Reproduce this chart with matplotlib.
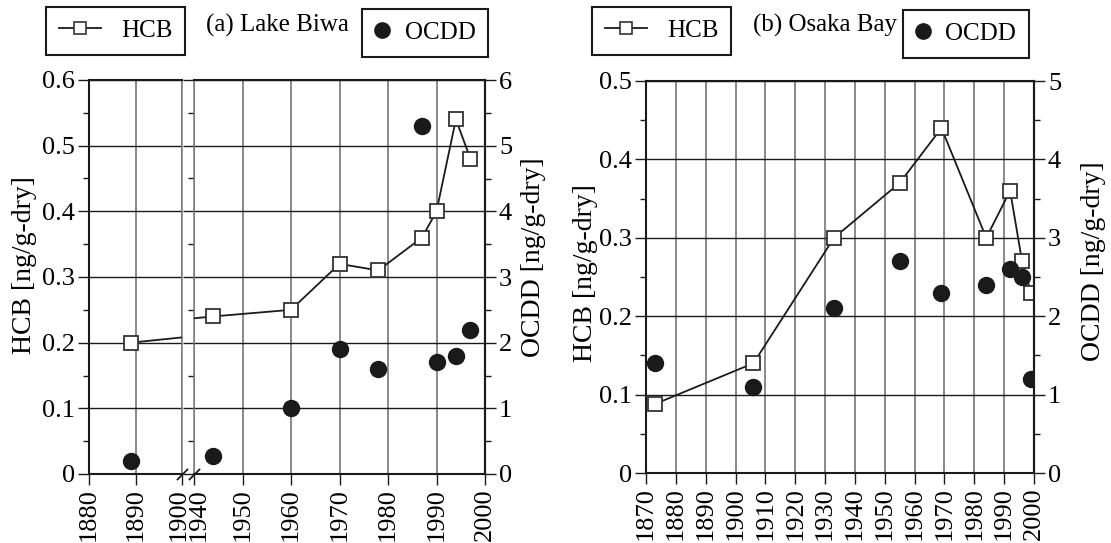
import matplotlib
matplotlib.use("Agg")
import matplotlib.pyplot as plt
from matplotlib.lines import Line2D
from matplotlib.ticker import MultipleLocator
from matplotlib.transforms import ScaledTranslation

FS = 18          # legends and panel titles
TICK_FS = 19     # tick labels
LABEL_FS = 20    # axis labels
plt.rcParams["font.family"] = ["Liberation Serif", "DejaVu Serif"]
plt.rcParams["font.size"] = FS
plt.rcParams["axes.unicode_minus"] = False

# (a) Lake Biwa sediment core
biwa_year = [1889, 1944, 1960, 1970, 1978, 1987, 1990, 1994, 1997]
biwa_hcb = [0.20, 0.24, 0.25, 0.32, 0.31, 0.36, 0.40, 0.54, 0.48]
biwa_ocdd = [0.2, 0.27, 1.0, 1.9, 1.6, 5.3, 1.7, 1.8, 2.2]

# (b) Osaka Bay sediment core
osaka_year = [1873, 1906, 1933, 1955, 1969, 1984, 1992, 1996, 1999]
osaka_hcb = [0.088, 0.14, 0.30, 0.37, 0.44, 0.30, 0.36, 0.27, 0.23]
osaka_ocdd = [1.4, 1.1, 2.1, 2.7, 2.3, 2.4, 2.6, 2.5, 1.2]

biwa_ticks_old = [1880, 1890, 1900]
biwa_ticks_new = [1940, 1950, 1960, 1970, 1980, 1990, 2000]
osaka_ticks = list(range(1870, 2001, 10))

W, H = 1111, 543
fig = plt.figure(figsize=(W / 100, H / 100), dpi=100)


def px_axes(x0, x1, y0, y1):
    return fig.add_axes([x0 / W, 1 - y1 / H, (x1 - x0) / W, (y1 - y0) / H])


HCB_STYLE = dict(color="#1a1a1a", lw=1.3, marker="s", ms=10.5, mfc="white",
                 mec="#333333", mew=1.3, zorder=5)
OCDD_STYLE = dict(ls="none", marker="o", ms=11.5, color="#1a1a1a", zorder=6)
GRID_H = dict(color="#1a1a1a", lw=1.0)
GRID_V = dict(color="#6a6a6a", lw=1.1)


def yfmt(v, _):
    return "0" if v == 0 else f"{v:g}"


def style_axes(ax):
    ax.set_facecolor("none")
    for s in ax.spines.values():
        s.set_linewidth(1.5)
        s.set_color("#1a1a1a")
    ax.tick_params(axis="both", which="major", direction="out", length=8,
                   width=1.0, color="#1a1a1a", pad=2, labelsize=TICK_FS)
    ax.tick_params(axis="both", which="minor", direction="out", length=4,
                   width=1.0, color="#1a1a1a")
    ax.tick_params(axis="x", labelrotation=90)
    ax.yaxis.grid(True, **GRID_H)
    ax.xaxis.grid(True, **GRID_V)
    ax.set_axisbelow(True)


def style_right(tw, step):
    for s in tw.spines.values():
        s.set_visible(False)
    tw.spines["right"].set_visible(True)
    tw.spines["right"].set_linewidth(1.5)
    tw.spines["right"].set_color("#1a1a1a")
    tw.yaxis.set_major_locator(MultipleLocator(step))
    tw.yaxis.set_minor_locator(MultipleLocator(step / 2))
    tw.tick_params(axis="y", which="major", direction="out", length=8,
                   width=1.0, color="#1a1a1a", pad=2, labelsize=TICK_FS)
    tw.tick_params(axis="y", which="minor", direction="out", length=4,
                   width=1.0, color="#1a1a1a")
    tw.yaxis.set_major_formatter(yfmt)


def place_ylabel(ax, text, x, y):
    ax.set_ylabel(text, rotation=90, va="center", ha="center",
                  fontsize=LABEL_FS)
    ax.yaxis.set_label_coords(x, y)


def nudge_tick_label(ax, index, dx_px):
    lab = ax.xaxis.get_major_ticks()[index].label1
    lab.set_transform(lab.get_transform()
                      + ScaledTranslation(dx_px / 100, 0, fig.dpi_scale_trans))


# ---------- panel (a): broken time axis ----------
ax_old = px_axes(89, 182, 80, 474)
ax_new = px_axes(194, 485, 80, 474)
for ax in (ax_old, ax_new):
    style_axes(ax)
    ax.set_ylim(0, 0.6)
    ax.yaxis.set_major_locator(MultipleLocator(0.1))
    ax.yaxis.set_minor_locator(MultipleLocator(0.05))
    ax.plot(biwa_year, biwa_hcb, **HCB_STYLE)

ax_old.set_xlim(1880, 1900)
ax_old.set_xticks(biwa_ticks_old)
ax_new.set_xlim(1940, 2000)
ax_new.set_xticks(biwa_ticks_new)
ax_old.yaxis.set_major_formatter(yfmt)
ax_new.tick_params(axis="y", which="both", left=False, labelleft=False)
ax_old.spines["right"].set_color("#7a7a7a")
ax_old.spines["right"].set_linewidth(1.1)
ax_new.spines["left"].set_color("#7a7a7a")
ax_new.spines["left"].set_linewidth(1.1)
place_ylabel(ax_old, "HCB [ng/g-dry]", (25 - 89) / 93, 0.53)

# keep the two labels beside the gap apart
nudge_tick_label(ax_old, -1, -3)
nudge_tick_label(ax_new, 0, 5)

tw_old = ax_old.twinx()
tw_new = ax_new.twinx()
for tw in (tw_old, tw_new):
    tw.set_ylim(0, 6)
    tw.plot(biwa_year, biwa_ocdd, **OCDD_STYLE)
    for s in tw.spines.values():
        s.set_visible(False)
tw_old.set_xlim(1880, 1900)
tw_new.set_xlim(1940, 2000)
tw_old.tick_params(axis="y", which="both", right=False, labelright=False)
style_right(tw_new, 1)
place_ylabel(tw_new, "OCDD [ng/g-dry]", (533 - 194) / 291, 0.55)

# slashes marking the gap in the time axis
brk = dict(marker=[(-1, -1), (1, 1)], markersize=8, ls="none", color="#1a1a1a",
           mec="#1a1a1a", mew=1.3, clip_on=False, zorder=10)
ax_old.plot([1], [0], transform=ax_old.transAxes, **brk)
ax_new.plot([0], [0], transform=ax_new.transAxes, **brk)

# ---------- panel (b) ----------
axb = px_axes(646, 1034, 81, 473)
style_axes(axb)
axb.set_xlim(1870, 2000)
axb.set_xticks(osaka_ticks)
axb.set_ylim(0, 0.5)
axb.yaxis.set_major_locator(MultipleLocator(0.1))
axb.yaxis.set_minor_locator(MultipleLocator(0.05))
axb.yaxis.set_major_formatter(yfmt)
axb.plot(osaka_year, osaka_hcb, **HCB_STYLE)
place_ylabel(axb, "HCB [ng/g-dry]", (586 - 646) / 388, 0.51)

twb = axb.twinx()
twb.set_ylim(0, 5)
twb.plot(osaka_year, osaka_ocdd, **OCDD_STYLE)
style_right(twb, 1)
place_ylabel(twb, "OCDD [ng/g-dry]", (1093 - 646) / 388, 0.54)

# ---------- legends and panel titles ----------
hcb_handle = Line2D([], [], color="#1a1a1a", lw=1.3, marker="s", ms=8,
                    mfc="white", mec="#333333", mew=1.2)
ocdd_handle = Line2D([], [], ls="none", marker="o", ms=11, color="#1a1a1a")


def box_legend(handle, label, x, y, hl, tp):
    leg = fig.legend([handle], [label], loc="upper left",
                     bbox_to_anchor=(x / W, 1 - y / H), frameon=True,
                     fancybox=False, edgecolor="#1a1a1a", framealpha=1,
                     borderpad=0.5, handlelength=hl, handletextpad=tp,
                     borderaxespad=0, fontsize=FS)
    leg.get_frame().set_linewidth(1.5)
    return leg


box_legend(hcb_handle, "HCB", 46, 7, 1.7, 0.8)
box_legend(ocdd_handle, "OCDD", 362, 9, 0.6, 0.6)
box_legend(hcb_handle, "HCB", 592, 7, 1.7, 0.8)
box_legend(ocdd_handle, "OCDD", 903, 10, 0.6, 0.6)

fig.text(277 / W, 1 - 25 / H, "(a) Lake Biwa", ha="center", va="center",
         fontsize=FS)
fig.text(825 / W, 1 - 25 / H, "(b) Osaka Bay", ha="center", va="center",
         fontsize=FS)

fig.savefig("out.png", dpi=100)
